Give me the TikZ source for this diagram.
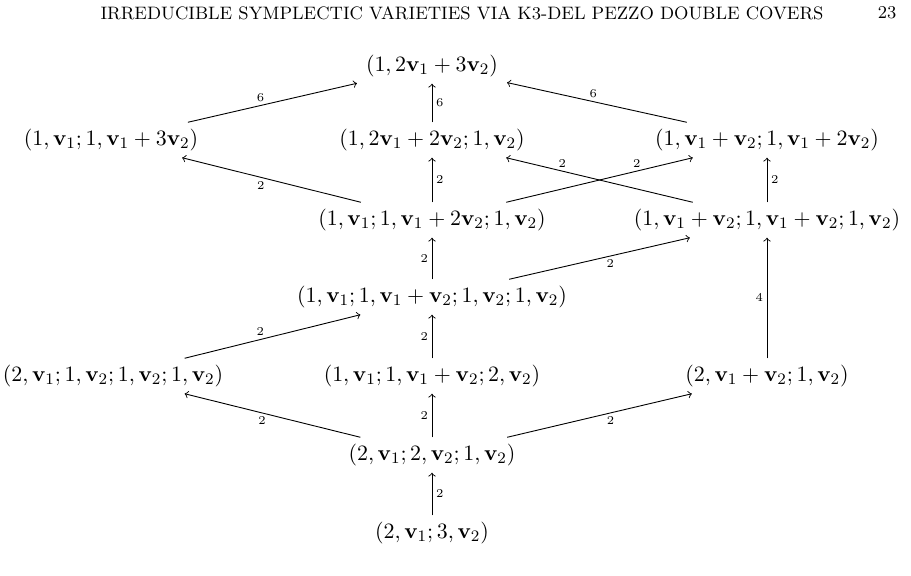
\documentclass[tikz,border=0pt]{standalone}
\usepackage{amsmath}
\begin{document}
\begin{tikzpicture}[x=0.5pt,y=-0.5pt,
  cell/.style={font=\fontsize{11}{13}\selectfont, inner xsep=1ex, inner ysep=0.85ex, text height=0.75em, text depth=0.25em},
  arr/.style={->, >=to, line width=0.45pt},
  lab/.style={font=\fontsize{6.5}{8}\selectfont, inner sep=1.8pt},
  hdr/.style={font=\fontsize{9}{11}\selectfont, inner sep=0pt}]
\useasboundingbox (0,0) rectangle (911,575);
\newcommand{\vv}{\mathbf{v}}
\node[hdr] (head) at (462,13) {IRREDUCIBLE SYMPLECTIC VARIETIES VIA K3-DEL PEZZO DOUBLE COVERS};
\node[hdr] (pnum) at (887,13) {23};
\node[cell] (N1) at (432,66) {$(1,2\vv_1+3\vv_2)$};
\node[cell] (N2) at (111,140) {$(1,\vv_1;1,\vv_1+3\vv_2)$};
\node[cell] (N3) at (432,140) {$(1,2\vv_1+2\vv_2;1,\vv_2)$};
\node[cell] (N4) at (767,140) {$(1,\vv_1+\vv_2;1,\vv_1+2\vv_2)$};
\node[cell] (N5) at (432,220) {$(1,\vv_1;1,\vv_1+2\vv_2;1,\vv_2)$};
\node[cell] (N6) at (767,220) {$(1,\vv_1+\vv_2;1,\vv_1+\vv_2;1,\vv_2)$};
\node[cell] (N7) at (432,297) {$(1,\vv_1;1,\vv_1+\vv_2;1,\vv_2;1,\vv_2)$};
\node[cell] (N8) at (113,376) {$(2,\vv_1;1,\vv_2;1,\vv_2;1,\vv_2)$};
\node[cell] (N9) at (432,376) {$(1,\vv_1;1,\vv_1+\vv_2;2,\vv_2)$};
\node[cell] (N10) at (767,376) {$(2,\vv_1+\vv_2;1,\vv_2)$};
\node[cell] (N11) at (432,455) {$(2,\vv_1;2,\vv_2;1,\vv_2)$};
\node[cell] (N12) at (432,533) {$(2,\vv_1;3,\vv_2)$};
\draw[arr] (N2) -- node[lab,above,pos=0.43]{$6$} (N1);
\draw[arr] (N3) -- node[lab,right]{$6$} (N1);
\draw[arr] (N4) -- node[lab,above,pos=0.52]{$6$} (N1);
\draw[arr] (N5) -- node[lab,below,pos=0.56]{$2$} (N2);
\draw[arr] (N5) -- node[lab,right]{$2$} (N3);
\draw[arr] (N5) -- node[lab,above,pos=0.7]{$2$} (N4);
\draw[arr] (N6) -- node[lab,above,pos=0.7]{$2$} (N3);
\draw[arr] (N6) -- node[lab,right]{$2$} (N4);
\draw[arr] (N7) -- node[lab,left]{$2$} (N5);
\draw[arr] (N7) -- node[lab,below,pos=0.56]{$2$} (N6);
\draw[arr] (N8) -- node[lab,above,pos=0.43]{$2$} (N7);
\draw[arr] (N9) -- node[lab,left]{$2$} (N7);
\draw[arr] (N10) -- node[lab,left]{$4$} (N6);
\draw[arr] (N11) -- node[lab,below,pos=0.56]{$2$} (N8);
\draw[arr] (N11) -- node[lab,left]{$2$} (N9);
\draw[arr] (N11) -- node[lab,below,pos=0.56]{$2$} (N10);
\draw[arr] (N12) -- node[lab,right]{$2$} (N11);
\end{tikzpicture}
\end{document}
